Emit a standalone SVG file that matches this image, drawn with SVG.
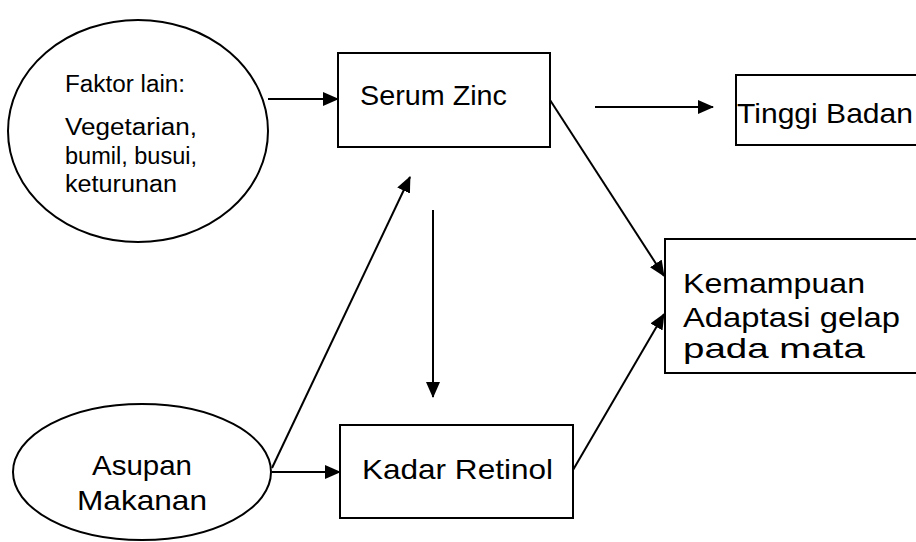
<svg xmlns="http://www.w3.org/2000/svg" width="916" height="542" viewBox="0 0 916 542">
<style>
.shape{fill:#fff;stroke:#000;stroke-width:2}
.conn{stroke:#000;stroke-width:2;fill:none}
text{font-family:"Liberation Sans",Arial,sans-serif;fill:#000}
.big{font-size:28px}
.small{font-size:23px}
</style>
<defs>
<marker id="ah" markerUnits="userSpaceOnUse" markerWidth="16" markerHeight="14" refX="15" refY="7" orient="auto">
<path d="M0,0 L16,7 L0,14 Z" fill="#000"/>
</marker>
</defs>
<rect width="916" height="542" fill="#fff"/>
<g id="faktor-lain">
<ellipse class="shape" cx="138" cy="131" rx="130" ry="111"/>
<text class="small" x="65" y="92" textLength="120" lengthAdjust="spacingAndGlyphs">Faktor lain:</text>
<text class="small" x="65" y="135" textLength="132" lengthAdjust="spacingAndGlyphs">Vegetarian,</text>
<text class="small" x="65" y="164" textLength="132" lengthAdjust="spacingAndGlyphs">bumil, busui,</text>
<text class="small" x="65" y="192" textLength="112" lengthAdjust="spacingAndGlyphs">keturunan</text>
</g>
<g id="serum-zinc">
<rect class="shape" x="338" y="53" width="212" height="94"/>
<text class="big" x="360" y="105" textLength="147" lengthAdjust="spacingAndGlyphs">Serum Zinc</text>
</g>
<g id="tinggi-badan">
<rect class="shape" x="736" y="75" width="190" height="70"/>
<text class="big" x="737" y="123" textLength="176" lengthAdjust="spacingAndGlyphs">Tinggi Badan</text>
</g>
<g id="kemampuan">
<rect class="shape" x="665" y="239" width="260" height="134"/>
<text class="big" x="683" y="293" textLength="182" lengthAdjust="spacingAndGlyphs">Kemampuan</text>
<text class="big" x="683" y="327" textLength="217" lengthAdjust="spacingAndGlyphs">Adaptasi gelap</text>
<text class="big" x="683" y="358" textLength="182" lengthAdjust="spacingAndGlyphs">pada mata</text>
</g>
<g id="asupan-makanan">
<ellipse class="shape" cx="142" cy="472" rx="129" ry="68"/>
<text class="big" x="92" y="475" textLength="100" lengthAdjust="spacingAndGlyphs">Asupan</text>
<text class="big" x="77" y="510" textLength="130" lengthAdjust="spacingAndGlyphs">Makanan</text>
</g>
<g id="kadar-retinol">
<rect class="shape" x="340" y="425" width="233" height="93"/>
<text class="big" x="362" y="479" textLength="191" lengthAdjust="spacingAndGlyphs">Kadar Retinol</text>
</g>
<g id="connectors">
<line class="conn" x1="268" y1="99" x2="338" y2="99" marker-end="url(#ah)"/>
<line class="conn" x1="595" y1="107" x2="713" y2="107" marker-end="url(#ah)"/>
<line class="conn" x1="550" y1="100" x2="664" y2="276" marker-end="url(#ah)"/>
<line class="conn" x1="573" y1="470" x2="664" y2="314" marker-end="url(#ah)"/>
<line class="conn" x1="433" y1="210" x2="433" y2="397" marker-end="url(#ah)"/>
<line class="conn" x1="272" y1="468" x2="410" y2="177" marker-end="url(#ah)"/>
<line class="conn" x1="272" y1="472" x2="340" y2="472" marker-end="url(#ah)"/>
</g>
</svg>
